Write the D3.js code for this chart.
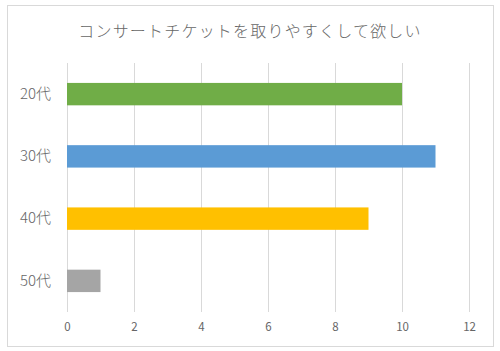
<!DOCTYPE html>
<html>
<head>
<meta charset="utf-8">
<script src="https://cdn.jsdelivr.net/npm/d3@7"></script>
<style>
body { margin: 0; background: #fff; }
svg { display: block; }
</style>
</head>
<body>
<svg width="500" height="351"></svg>
<script>
const title = 'コンサートチケットを取りやすくして欲しい';
const categories = ['20代', '30代', '40代', '50代'];
const values = [10, 11, 9, 1];
const colors = ['#70ad47', '#5b9bd5', '#ffc000', '#a5a5a5'];
const ticks = [0, 2, 4, 6, 8, 10, 12];

const svg = d3.select('svg');
const width = +svg.attr('width');
const height = +svg.attr('height');
const font = '"Noto Sans CJK JP", sans-serif';

svg.append('rect')
	.attr('x', 7.5).attr('y', 5.5)
	.attr('width', 486).attr('height', 341)
	.attr('fill', '#fff')
	.attr('stroke', '#d9d9d9');

svg.append('text')
	.attr('x', width / 2).attr('y', 37)
	.attr('text-anchor', 'middle')
	.attr('font-family', font)
	.attr('font-size', 16)
	.attr('font-weight', 300)
	.attr('letter-spacing', 1.2)
	.attr('fill', '#666')
	.text(title);

const margin = { top: 63, right: 31, bottom: 39, left: 67 };
const innerWidth = width - margin.left - margin.right;
const innerHeight = height - margin.top - margin.bottom;

const xScale = d3.scaleLinear().domain([0, 12]).range([0, innerWidth]);
const yScale = d3.scaleBand().domain(categories).range([0, innerHeight]).paddingInner(0.64).paddingOuter(0.32);

const g = svg.append('g').attr('transform', `translate(${margin.left}, ${margin.top})`);

g.selectAll('.grid').data(ticks)
	.enter().append('line')
		.attr('class', 'grid')
		.attr('x1', d => Math.round(xScale(d)) + 0.5)
		.attr('x2', d => Math.round(xScale(d)) + 0.5)
		.attr('y1', 0).attr('y2', innerHeight)
		.attr('stroke', '#d9d9d9');

g.selectAll('.bar').data(values)
	.enter().append('rect')
		.attr('class', 'bar')
		.attr('x', 0)
		.attr('y', (d, i) => yScale(categories[i]))
		.attr('width', d => xScale(d))
		.attr('height', yScale.bandwidth())
		.attr('fill', (d, i) => colors[i]);

const xAxis = g.append('g')
	.attr('transform', `translate(0, ${innerHeight})`)
	.call(d3.axisBottom(xScale).tickValues(ticks).tickSize(0).tickPadding(11))
	.attr('font-family', font)
	.attr('font-size', 11.5);
xAxis.select('.domain').remove();
xAxis.selectAll('text').attr('fill', '#666');

const yAxis = g.append('g')
	.call(d3.axisLeft(yScale).tickSize(0).tickPadding(16))
	.attr('font-family', font)
	.attr('font-size', 15);
yAxis.select('.domain').remove();
yAxis.selectAll('text').attr('fill', '#666').attr('font-weight', 300);
</script>
</body>
</html>
